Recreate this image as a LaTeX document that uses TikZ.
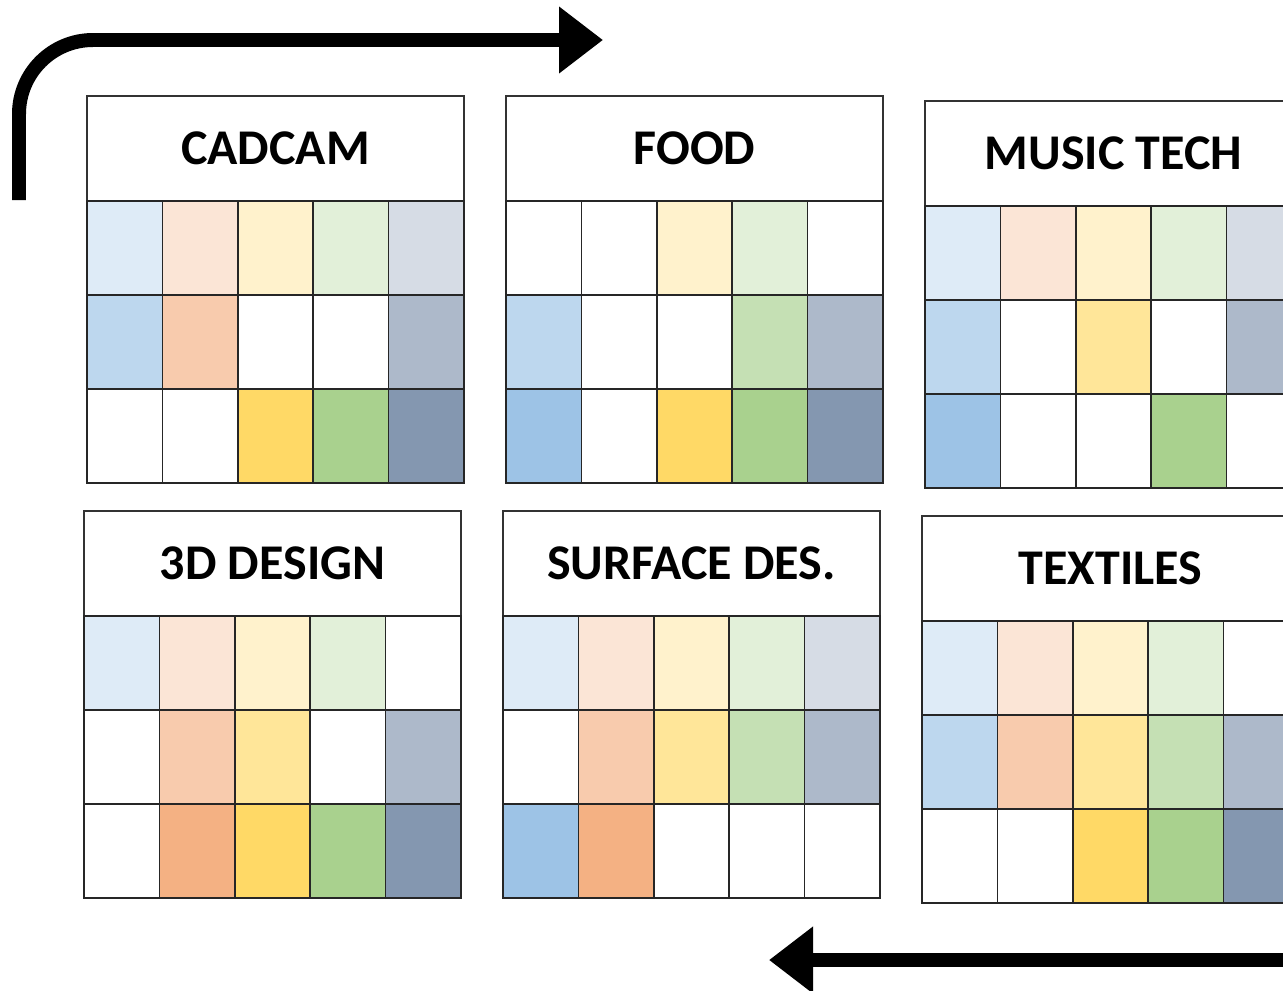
\documentclass[tikz,border=0pt]{standalone}
\usepackage{fontspec}
\setmainfont{Carlito}
\usepackage{tikz}
\usetikzlibrary{arrows.meta}
\definecolor{blu1}{HTML}{DEEBF7}
\definecolor{blu2}{HTML}{BDD7EE}
\definecolor{blu3}{HTML}{9DC3E6}
\definecolor{org1}{HTML}{FBE5D6}
\definecolor{org2}{HTML}{F8CBAD}
\definecolor{org3}{HTML}{F4B183}
\definecolor{gld1}{HTML}{FFF2CC}
\definecolor{gld2}{HTML}{FFE699}
\definecolor{gld3}{HTML}{FFD966}
\definecolor{grn1}{HTML}{E2F0D9}
\definecolor{grn2}{HTML}{C5E0B4}
\definecolor{grn3}{HTML}{A9D18E}
\definecolor{gry1}{HTML}{D6DCE5}
\definecolor{gry2}{HTML}{ADB9CA}
\definecolor{gry3}{HTML}{8497B0}
\tikzset{titlebox/.style={draw=black!80, line width=0.9pt, fill=white, minimum width=7.54cm, minimum height=2.1cm, inner sep=0pt, font=\bfseries\fontsize{28.45}{34}\selectfont}, cell/.style={draw=black!85, line width=0.9pt, minimum width=1.508cm, minimum height=1.88cm, inner sep=0pt}, rotation/.style={line width=0.28cm, rounded corners=1.48cm, -{Triangle[length=0.88cm, width=1.28cm]}}}

% one subject: title box with a 3x5 grid of tints under it
\newcommand{\subjectpanel}[4]{%
  \begin{scope}[shift={(#2)}]
    \node[titlebox] (#1) at (188.5,52.5) {#3};
    \foreach \tints [count=\r] in {#4}
      \foreach \tint [count=\c] in \tints
        \node[cell, fill=\tint] (#1-\r-\c) at ({75.4*(\c-0.5)},{105+94*(\r-0.5)}) {};
  \end{scope}}

\begin{document}
\begin{tikzpicture}[x=0.02cm, y=-0.02cm]
	\useasboundingbox (0,0) rectangle (1283,990);
	\clip (0,0) rectangle (1283,990);
	\subjectpanel{cadcam}{87,96}{CADCAM}{{blu1,org1,gld1,grn1,gry1},{blu2,org2,white,white,gry2},{white,white,gld3,grn3,gry3}}
	\subjectpanel{food}{506,96}{FOOD}{{white,white,gld1,grn1,white},{blu2,white,white,grn2,gry2},{blu3,white,gld3,grn3,gry3}}
	\subjectpanel{music}{925,101}{MUSIC TECH}{{blu1,org1,gld1,grn1,gry1},{blu2,white,gld2,white,gry2},{blu3,white,white,grn3,white}}
	\subjectpanel{design}{84,511}{3D DESIGN}{{blu1,org1,gld1,grn1,white},{white,org2,gld2,white,gry2},{white,org3,gld3,grn3,gry3}}
	\subjectpanel{surface}{503,511}{SURFACE DES.}{{blu1,org1,gld1,grn1,gry1},{white,org2,gld2,grn2,gry2},{blu3,org3,white,white,white}}
	\subjectpanel{textiles}{922,516}{TEXTILES}{{blu1,org1,gld1,grn1,white},{blu2,org2,gld2,grn2,gry2},{white,white,gld3,grn3,gry3}}
	\coordinate (topstart) at (19,200);
	\coordinate (topend) at (603,40);
	\coordinate (botstart) at (1300,960);
	\coordinate (botend) at (769,960);
	\draw[rotation] (topstart) |- (topend);
	\draw[rotation] (botstart) -- (botend);
\end{tikzpicture}
\end{document}
